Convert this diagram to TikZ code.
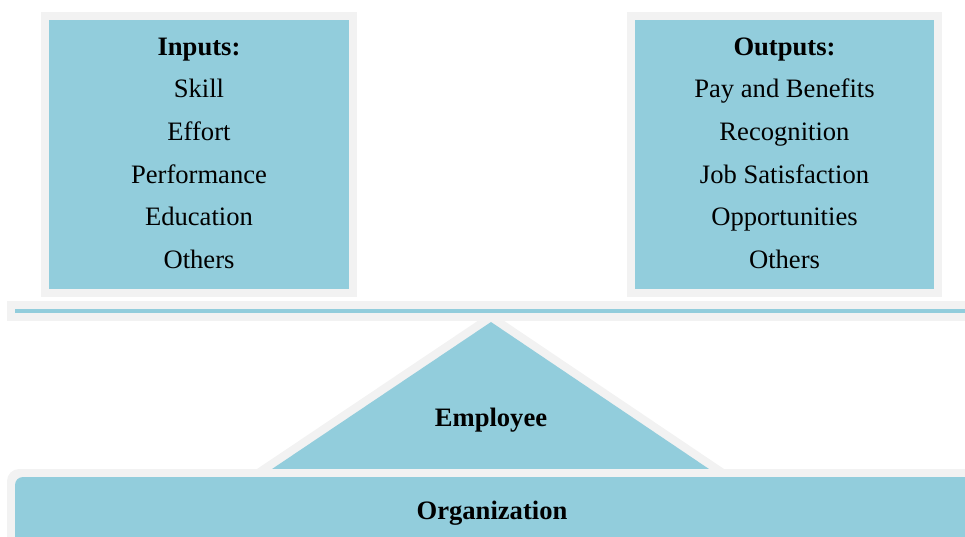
\documentclass[tikz,border=0pt]{standalone}
\usepackage{fontspec}
\setmainfont{Liberation Serif}
\definecolor{teal}{HTML}{92CDDC}
\definecolor{rim}{HTML}{F2F2F2}
\begin{document}
\begin{tikzpicture}[x=1pt,y=-1pt,
  item/.style={anchor=base,inner sep=0pt,font=\fontsize{26.6}{32}\selectfont},
  head/.style={item,font=\fontsize{26.6}{32}\selectfont\bfseries}]
\useasboundingbox (0,0) rectangle (965,536);
\clip (0,0) rectangle (965,536);
% input and output panels
\fill[rim] (41,12) rectangle (357,297);
\fill[teal] (49,20) rectangle (349,289);
\fill[rim] (627,12) rectangle (942,297);
\fill[teal] (635,20) rectangle (934,289);
% fulcrum
\fill[rim] (257,469) -- (491,312) -- (724,469) -- cycle;
\fill[teal] (272,469) -- (491,322) -- (709,469) -- cycle;
% balance beam
\fill[rim] (7,301) rectangle (1000,321);
\fill[teal] (15,309) rectangle (1000,313);
% base
\fill[rim, rounded corners=12pt] (7,469) rectangle (1000,620);
\fill[teal, rounded corners=8pt] (15,477) rectangle (1000,620);
% labels
\node[head] (inh) at (199,55) {Inputs:};
\node[item] (in1) at (199,97) {Skill};
\node[item] (in2) at (199,140) {Effort};
\node[item] (in3) at (199,183) {Performance};
\node[item] (in4) at (199,225) {Education};
\node[item] (in5) at (199,268) {Others};
\node[head] (outh) at (784.5,55) {Outputs:};
\node[item] (out1) at (784.5,97) {Pay and Benefits};
\node[item] (out2) at (784.5,140) {Recognition};
\node[item] (out3) at (784.5,183) {Job Satisfaction};
\node[item] (out4) at (784.5,225) {Opportunities};
\node[item] (out5) at (784.5,268) {Others};
\node[head] (emp) at (491,426) {Employee};
\node[head] (org) at (492,519) {Organization};
\end{tikzpicture}
\end{document}
